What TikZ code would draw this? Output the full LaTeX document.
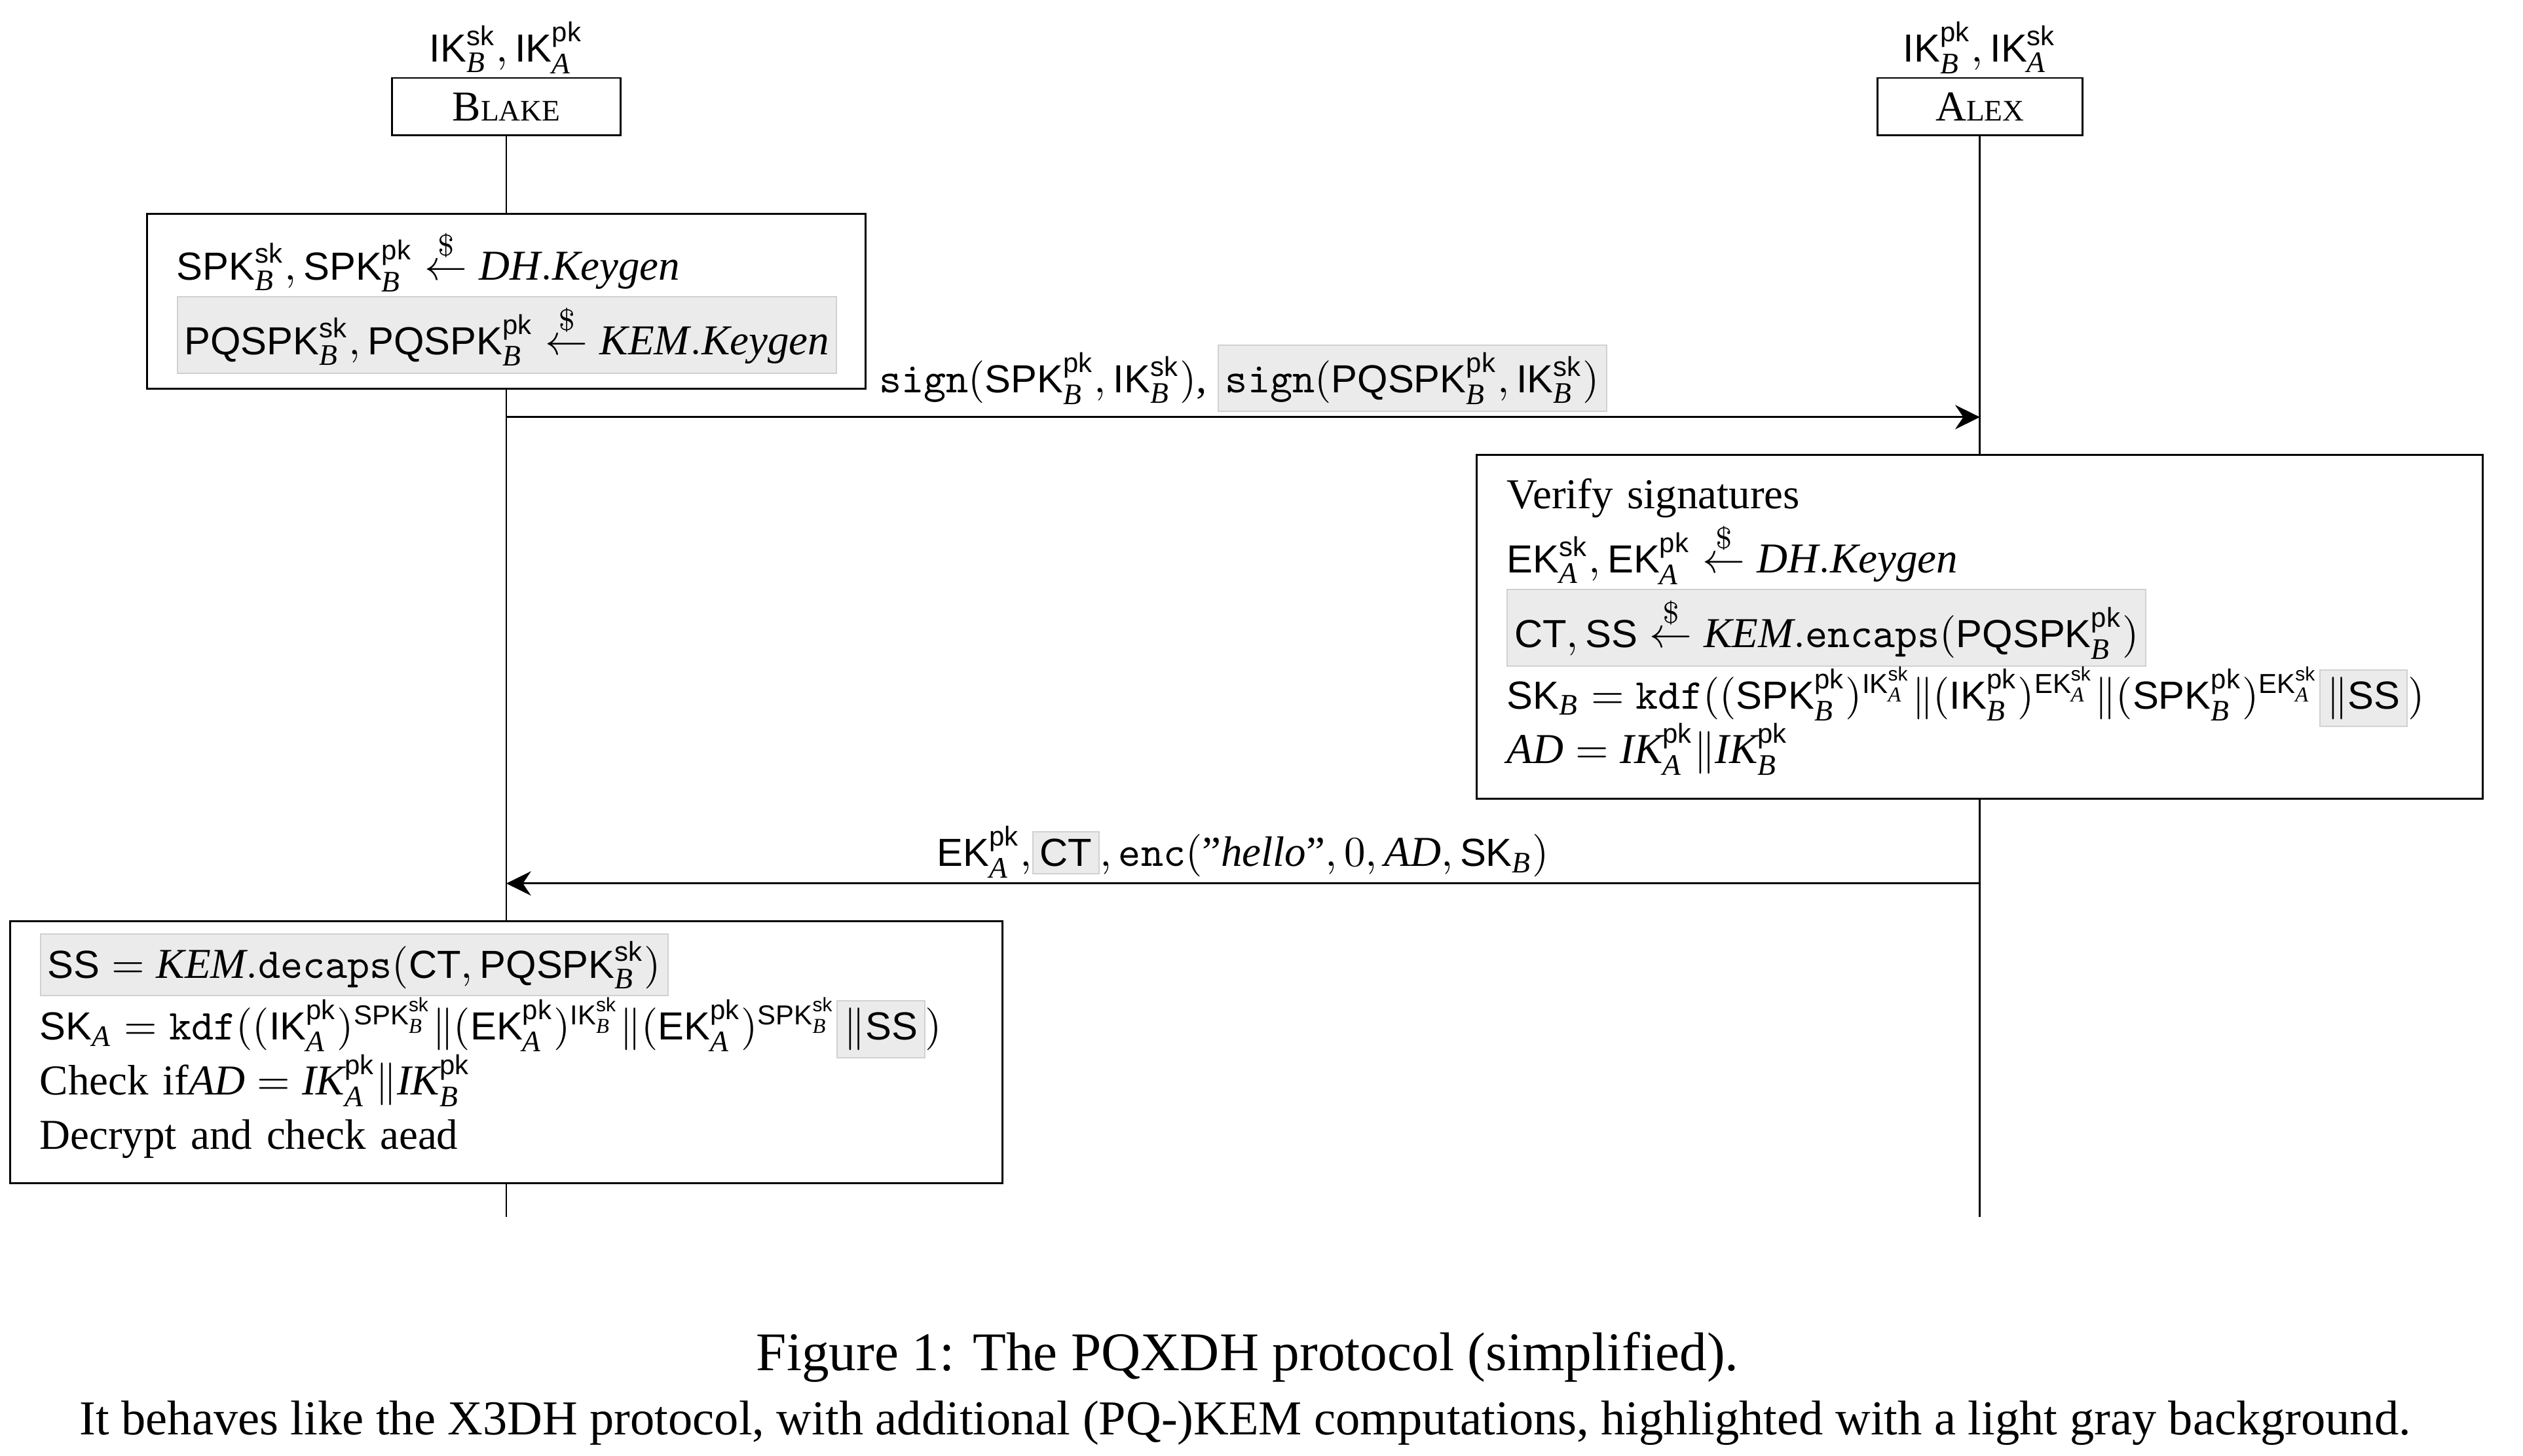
\documentclass[tikz,border=0pt]{standalone}
\usepackage{fontspec}
\setmainfont{Liberation Serif}
\setsansfont[Scale=0.92]{Liberation Sans}
\usetikzlibrary{arrows.meta,positioning}
\DeclareSymbolFont{textletters}{TU}{\rmdefault}{m}{it}
\newcount\lettercode
\lettercode=`A
\loop\Umathcode\lettercode="7 \symtextletters \lettercode
  \advance\lettercode by 1 \ifnum\lettercode<`Z\repeat
\Umathcode`Z="7 \symtextletters `Z
\lettercode=`a
\loop\Umathcode\lettercode="7 \symtextletters \lettercode
  \advance\lettercode by 1 \ifnum\lettercode<`z\repeat
\Umathcode`z="7 \symtextletters `z
\definecolor{hlfill}{gray}{0.92}
\definecolor{hlline}{gray}{0.82}
\newcommand{\graybox}[1]{{\setlength{\fboxsep}{1.5pt}\setlength{\fboxrule}{0.3pt}\fcolorbox{hlline}{hlfill}{#1}}}
\newcommand{\kf}[1]{\mathsf{#1}}
\newcommand{\rgets}{\stackrel{\$}{\leftarrow}}
\newcommand{\smallcap}{\fontsize{7}{8}\selectfont}

\begin{document}
\begin{tikzpicture}[line width=0.45pt,
    party/.style={draw, minimum height=13.5pt, inner xsep=0pt},
    keys/.style={inner sep=0.5pt},
    stepbox/.style={draw, fill=white, align=left, inner xsep=7pt, inner ysep=0pt},
    msg/.style={-{Stealth[length=5.8pt, width=5.7pt, inset=1.9pt]}},
    msglabel/.style={above, inner sep=1pt}]
    \useasboundingbox (0,0) rectangle (20.83,-12.02);

    \node[party, minimum width=1.887cm] (blake) at (4.18,-0.881) {B{\smallcap LAKE}};
    \node[party, minimum width=1.692cm] (alex) at (16.346,-0.881) {A{\smallcap LEX}};
    \node[keys, above=0pt of blake] (blakekeys) {$\kf{IK}_B^{\kf{sk}}, \kf{IK}_A^{\kf{pk}}$};
    \node[keys, above=0pt of alex] (alexkeys) {$\kf{IK}_B^{\kf{pk}}, \kf{IK}_A^{\kf{sk}}$};

    \coordinate (blakeend) at (4.18,-10.046);
    \coordinate (alexend) at (16.346,-10.046);
    \draw (blake) -- (blakeend);
    \draw (alex) -- (alexend);

    \node[stepbox, text width=154.9pt, minimum height=1.444cm] (keygen) at (4.18,-2.490) {
        $\kf{SPK}_B^{\kf{sk}}, \kf{SPK}_B^{\kf{pk}} \rgets \mathit{DH.Keygen}$\\
        \graybox{$\kf{PQSPK}_B^{\kf{sk}}, \kf{PQSPK}_B^{\kf{pk}} \rgets \mathit{KEM.Keygen}$}};

    \coordinate (signb) at (4.18,-3.444);
    \coordinate (signa) at (16.346,-3.444);
    \draw[msg] (signb) -- node[msglabel] (signlabel) {$\mathtt{sign}(\kf{SPK}_B^{\kf{pk}}, \kf{IK}_B^{\kf{sk}})$, \graybox{$\mathtt{sign}(\kf{PQSPK}_B^{\kf{pk}}, \kf{IK}_B^{\kf{sk}})$}} (signa);

    \node[stepbox, text width=222.3pt, minimum height=2.839cm] (encaps) at (16.346,-5.177) {
        Verify signatures\\
        $\kf{EK}_A^{\kf{sk}}, \kf{EK}_A^{\kf{pk}} \rgets \mathit{DH.Keygen}$\\
        \graybox{$\kf{CT}, \kf{SS} \rgets \mathit{KEM}.\mathtt{encaps}(\kf{PQSPK}_B^{\kf{pk}})$}\\[-1.1pt]
        \mbox{$\kf{SK}_B = \mathtt{kdf}((\kf{SPK}_B^{\kf{pk}})^{\kf{IK}_A^{\kf{sk}}} \| (\kf{IK}_B^{\kf{pk}})^{\kf{EK}_A^{\kf{sk}}} \| (\kf{SPK}_B^{\kf{pk}})^{\kf{EK}_A^{\kf{sk}}}$\graybox{$\|\kf{SS}$}$)$}\\[-1.9pt]
        $AD = IK_A^{\kf{pk}} \| IK_B^{\kf{pk}}$};

    \coordinate (replya) at (16.346,-7.294);
    \coordinate (replyb) at (4.18,-7.294);
    \draw[msg] (replya) -- node[msglabel] (replylabel) {$\kf{EK}_A^{\kf{pk}},$\graybox{$\kf{CT}$}$, \mathtt{enc}(\mbox{''}\mathit{hello}\mbox{''}, 0, AD, \kf{SK}_B)$} (replyb);

    \node[stepbox, text width=219.2pt, minimum height=2.163cm] (decaps) at (4.18,-8.689) {
        \graybox{$\kf{SS} = \mathit{KEM}.\mathtt{decaps}(\kf{CT}, \kf{PQSPK}_B^{\kf{sk}})$}\\[-0.7pt]
        \mbox{$\kf{SK}_A = \mathtt{kdf}((\kf{IK}_A^{\kf{pk}})^{\kf{SPK}_B^{\kf{sk}}} \| (\kf{EK}_A^{\kf{pk}})^{\kf{IK}_B^{\kf{sk}}} \| (\kf{EK}_A^{\kf{pk}})^{\kf{SPK}_B^{\kf{sk}}}$\graybox{$\|\kf{SS}$}$)$}\\[-1.9pt]
        Check if$AD = IK_A^{\kf{pk}} \| IK_B^{\kf{pk}}$\\[0.8pt]
        Decrypt and check aead\rule[-5.2pt]{0pt}{5.2pt}};

    \node[anchor=base, font=\fontsize{12.8}{15.1}\selectfont] (figcaption) at (10.30,-11.317) {Figure 1: The PQXDH protocol (simplified).};
    \node[anchor=base, font=\fontsize{11.45}{14}\selectfont] (capnote) at (10.28,-11.847) {It behaves like the X3DH protocol, with additional (PQ-)KEM computations, highlighted with a light gray background.};
\end{tikzpicture}
\end{document}
